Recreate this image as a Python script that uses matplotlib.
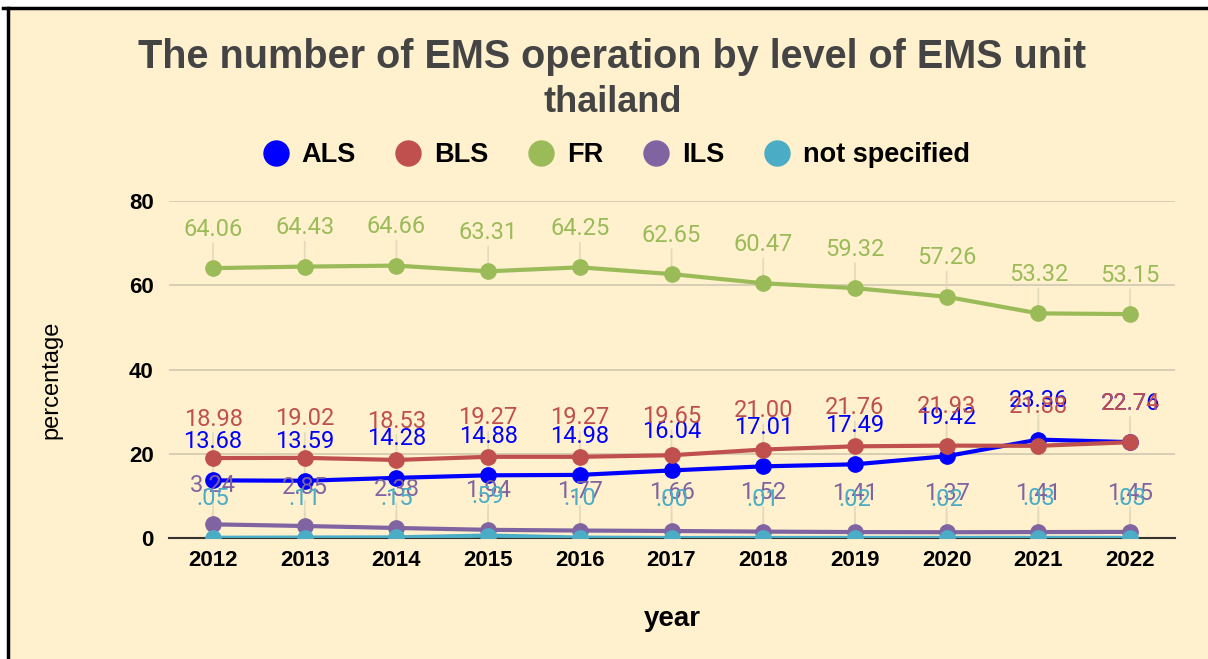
import numpy as np
import matplotlib.pyplot as plt
from matplotlib.lines import Line2D
from matplotlib.patches import Rectangle

years = ["2012", "2013", "2014", "2015", "2016", "2017", "2018", "2019", "2020", "2021", "2022"]
als = [13.68, 13.59, 14.28, 14.88, 14.98, 16.04, 17.01, 17.49, 19.42, 23.36, 22.76]
bls = [18.98, 19.02, 18.53, 19.27, 19.27, 19.65, 21.00, 21.76, 21.93, 21.88, 22.74]
fr = [64.06, 64.43, 64.66, 63.31, 64.25, 62.65, 60.47, 59.32, 57.26, 53.32, 53.15]
ils = [3.24, 2.85, 2.38, 1.94, 1.77, 1.66, 1.52, 1.41, 1.37, 1.41, 1.45]
not_spec = [0.05, 0.11, 0.15, 0.59, 0.10, 0.00, 0.01, 0.02, 0.02, 0.03, 0.03]

series = [("ALS", als, "#0000FF"),
          ("BLS", bls, "#C0504D"),
          ("FR", fr, "#9BBB59"),
          ("ILS", ils, "#8064A2"),
          ("not specified", not_spec, "#4BACC6")]

bg = "#FFF1CE"
fig = plt.figure(figsize=(12.08, 6.59), dpi=100)
fig.patch.set_facecolor("white")
fig.patches.append(Rectangle((8/1208, 0), 1, 1 - 8/659, transform=fig.transFigure,
                             facecolor=bg, edgecolor="none", zorder=-10))
fig.lines.append(Line2D([3/1208, 1], [1 - 8/659, 1 - 8/659], transform=fig.transFigure, color="black", lw=2.5))
fig.lines.append(Line2D([8/1208, 8/1208], [0, 1 - 8/659], transform=fig.transFigure, color="black", lw=2.5))

ax = fig.add_axes([169/1208, 1 - 538/659, (1175 - 169)/1208, (538 - 201)/659])
ax.set_facecolor(bg)
x = np.arange(len(years))

for name, vals, col in series:
    ax.plot(x, vals, color=col, lw=3, marker="o", ms=11, label=name, zorder=3)

# data labels with leader lines
for name, vals, col in series:
    for xi, v in zip(x, vals):
        ax.annotate("", xy=(xi, v), xytext=(0, 20), textcoords="offset points",
                    arrowprops=dict(arrowstyle="-", color="#E3D9BC", lw=1.2), zorder=1)
        lbl = f"{v:.2f}" if v >= 1 else f"{v:.2f}"[1:]
        ax.annotate(lbl, xy=(xi, v), xytext=(0, 28),
                    textcoords="offset points", ha="center", va="center",
                    color=col, fontsize=17, family="Roboto", zorder=4)

ax.set_xlim(-0.48, 10.49)
ax.set_ylim(0, 80)
ax.set_yticks([0, 20, 40, 60, 80])
ax.set_xticks(x)
ax.set_xticklabels(years)
for s in ["top", "right", "left"]:
    ax.spines[s].set_visible(False)
ax.spines["bottom"].set_color("#333333")
ax.spines["bottom"].set_linewidth(1.5)
ax.tick_params(length=0, labelsize=16)
ax.tick_params(axis="y", pad=11)
ax.tick_params(axis="x", pad=9)
for t in ax.get_xticklabels() + ax.get_yticklabels():
    t.set_fontweight("bold")
    t.set_family("Liberation Sans")
ax.grid(axis="y", color="#CFC7B0", lw=1.2)
ax.set_axisbelow(True)

ax.set_ylabel("percentage", fontsize=17, family="Liberation Sans")
ax.yaxis.set_label_coords((62 - 169)/1006, 0.47)
ax.set_xlabel("year", fontsize=20, fontweight="bold", family="Liberation Sans")
ax.xaxis.set_label_coords(0.5, -(606 - 538)/337)

fig.text(0.507, 1 - 57/659, "The number of EMS operation by level of EMS unit", ha="center", va="center",
         fontsize=28.5, fontweight="bold", color="#444444", family="Liberation Sans")
fig.text(0.507, 1 - 103/659, "thailand", ha="center", va="center",
         fontsize=26, fontweight="bold", color="#444444", family="Liberation Sans")

handles = [Line2D([], [], ls="none", marker="o", ms=18, color=c) for _, _, c in series]
fig.legend(handles, [n for n, _, _ in series], loc="center", bbox_to_anchor=(0.507, 1 - 155/659),
           ncol=5, frameon=False, handletextpad=0.2, columnspacing=1.2, handlelength=1.5,
           prop=dict(family="Liberation Sans", weight="bold", size=19.5))

plt.savefig("out.png", dpi=100, facecolor=fig.get_facecolor())
